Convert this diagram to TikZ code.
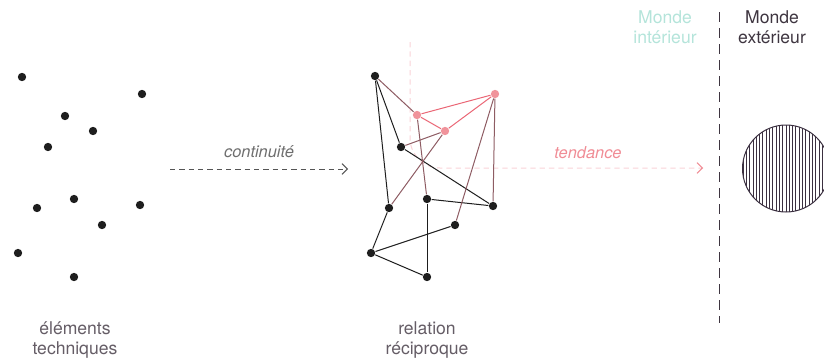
\documentclass[tikz,border=0pt]{standalone}
\usepackage{fontspec}
\setmainfont{TeX Gyre Heros}
\usepackage{tikz}
\usetikzlibrary{positioning,arrows.meta}

\definecolor{dotblack}{HTML}{1E1E1E}
\definecolor{pinkdot}{HTML}{F0939B}
\definecolor{pinkline}{HTML}{EA6675}
\definecolor{mixline}{HTML}{8E5C63}
\definecolor{faintpink}{HTML}{F9D3D7}
\definecolor{tendpink}{HTML}{F08C95}
\definecolor{greyarrow}{HTML}{555555}
\definecolor{tealtext}{HTML}{B4E4DA}
\definecolor{darktext}{HTML}{3E3540}
\definecolor{hatchcol}{HTML}{3B3040}

\begin{document}
\begin{tikzpicture}[x=0.3mm,y=-0.3mm,line width=0.3mm,
		dot/.style={circle,fill=dotblack,inner sep=0pt,minimum size=2.5mm},
		pdot/.style={circle,fill=pinkdot,inner sep=0pt,minimum size=2.5mm},
		lbl/.style={align=center,font=\fontsize{15}{17}\selectfont,text=darktext!80!white},
		flowlbl/.style={font=\fontsize{14}{16}\selectfont\itshape},
		flow/.style={dashed,dash pattern=on 1.6mm off 1.2mm,-{Straight Barb[length=1.6mm,width=3.2mm]}}]
			\useasboundingbox (0,0) rectangle (824,361);

			%left dots
			\node [dot] (e1) at (22,77) {};
			\node [dot] (e2) at (142,94) {};
			\node [dot] (e3) at (65,116) {};
			\node [dot] (e4) at (93,131) {};
			\node [dot] (e5) at (48,147) {};
			\node [dot] (e6) at (74,199) {};
			\node [dot] (e7) at (37,208) {};
			\node [dot] (e8) at (140,205) {};
			\node [dot] (e9) at (102,225) {};
			\node [dot] (e10) at (18,253) {};
			\node [dot] (e11) at (74,277) {};

			%tendance line
			\coordinate (t0) at (410,42);
			\coordinate (t1) at (703,168);
			\draw [faintpink,dashed,dash pattern=on 1.6mm off 1.2mm,rounded corners=9mm] (t0) -- (410,168) -- (t1);
			\draw [tendpink,-{Straight Barb[length=1.6mm,width=3.2mm]}] ([xshift=-0.5mm]t1) -- (t1);

			%middle nodes
			\node [dot] (a) at (375,76) {};
			\node [dot] (b) at (401,147) {};
			\node [dot] (c) at (427,199) {};
			\node [dot] (d) at (493,206) {};
			\node [dot] (e) at (389,208) {};
			\node [dot] (f) at (455,225) {};
			\node [dot] (g) at (371,253) {};
			\node [dot] (h) at (427,277) {};
			\node [pdot] (p1) at (417,115) {};
			\node [pdot] (p2) at (445,131) {};
			\node [pdot] (p3) at (495,94) {};

			%edges
			\draw [dotblack] (a) -- (b);
			\draw [dotblack] (a) -- (e);
			\draw [dotblack] (b) -- (d);
			\draw [dotblack] (c) -- (d);
			\draw [dotblack] (c) -- (h);
			\draw [dotblack] (e) -- (g);
			\draw [dotblack] (g) -- (f);
			\draw [dotblack] (g) -- (h);
			\draw [pinkline] (p1) -- (p3);
			\draw [pinkline] (p1) -- (p2);
			\draw [pinkline] (p2) -- (p3);
			\draw [mixline] (a) -- (p1);
			\draw [mixline] (p2) -- (b);
			\draw [mixline] (p2) -- (e);
			\draw [mixline] (p1) -- (c);
			\draw [mixline] (p3) -- (f);
			\draw [mixline] (p3) -- (d);

			%continuite arrow
			\coordinate (c0) at (170,169);
			\coordinate (c1) at (348,169);
			\draw [flow,greyarrow] (c0) -- node[above=2.1mm,flowlbl,text=greyarrow!85!white] {continuité} (c1);
			\node [flowlbl,text=tendpink] (tend) at (588,153) {tendance};

			%border
			\coordinate (s0) at (719,12);
			\coordinate (s1) at (719,323);
			\draw [darktext,dash pattern=on 3mm off 1.8mm] (s0) -- (s1);
			\node [lbl,text=tealtext] (inner) at (665,27) {Monde\\intérieur};
			\node [lbl,text=darktext] (outer) at (772,27) {Monde\\extérieur};

			%outer world
			\begin{scope}
				\clip (786,168.5) circle [radius=13.05mm];
				\foreach \x in {743,746.3,...,832}
					\draw [hatchcol,line width=0.22mm] (\x,120) -- (\x,218);
			\end{scope}
			\draw [hatchcol] (786,168.5) circle [radius=13.05mm];

			%labels
			\node [lbl] (tech) at (75,340) {éléments\\techniques};
			\node [lbl] (rel) at (427,340) {relation\\réciproque};
		\end{tikzpicture}
\end{document}
